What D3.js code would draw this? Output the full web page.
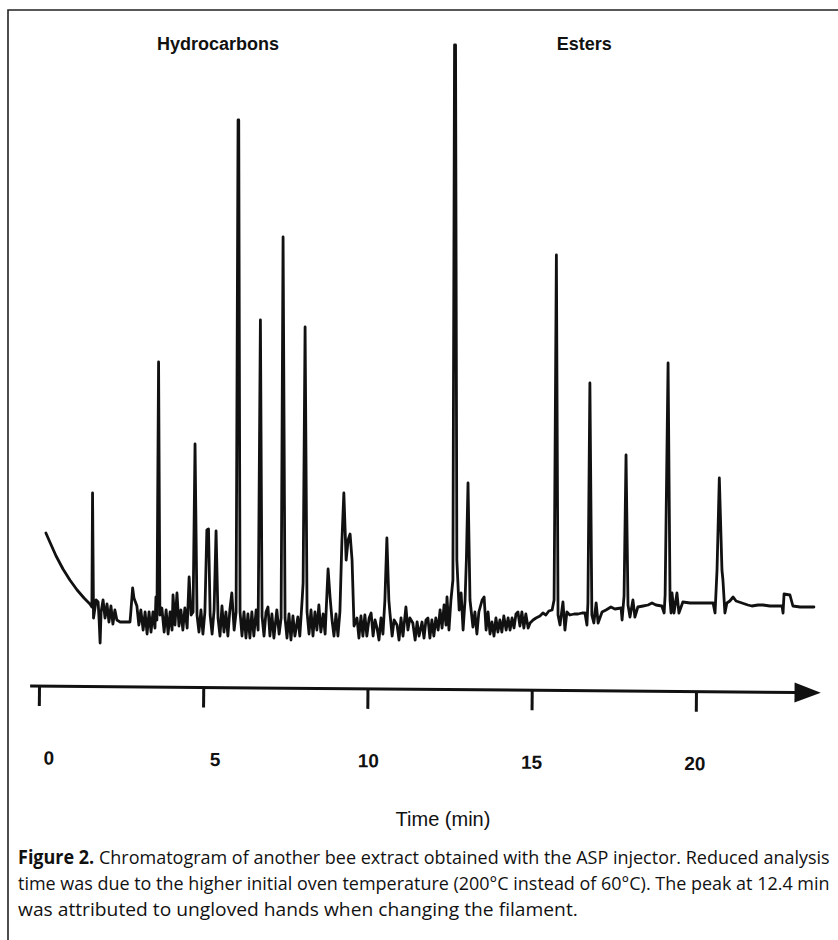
<!DOCTYPE html>
<html lang="en">
<head>
<meta charset="UTF-8">
<title>Figure 2 - Chromatogram</title>
<style>
  body { margin: 0; background: #fff; }
  svg { display: block; }
  .trace { fill: none; stroke: #111; stroke-width: 2.8; stroke-linejoin: round; stroke-linecap: round; }
  .axis text { font-family: 'Liberation Sans', Arial, sans-serif; font-size: 19px; font-weight: bold; fill: #111; }
  .axis line { stroke: #111; stroke-width: 3; }
  .region { font-family: 'Liberation Sans', Arial, sans-serif; font-size: 18px; font-weight: bold; fill: #111; text-anchor: middle; }
  .xlabel { font-family: 'Liberation Sans', Arial, sans-serif; font-size: 20px; fill: #111; text-anchor: middle; }
  .caption { font-family: 'Open Sans', 'Noto Sans', sans-serif; font-size: 19px; fill: #111; }
</style>
</head>
<body>
<div id="chart"></div>
<script src="https://d3js.org/d3.v7.min.js"></script>
<script>
// x axis ticks (minutes)
const tickValues = [0, 5, 10, 15, 20];
const tickLabels = ['0', '5', '10', '15', '20'];
const regionLabels = ['Hydrocarbons', 'Esters'];
const axisTitle = 'Time (min)';

// detector trace, [time (min), signal (arbitrary units)]
const traceStart = [
  [0.21, 21.4], [0.33, 19.6], [0.52, 16.8], [0.73, 14.2], [0.94, 12.0], [1.16, 10.0],
  [1.37, 8.4], [1.55, 7.2], [1.61, 6.6], [1.63, 29.4], [1.66, 4.4], [1.74, 8.0],
  [1.80, 7.6], [1.83, 4.0], [1.86, -0.6], [1.89, 5.6], [1.95, 8.0], [2.01, 4.4],
  [2.07, 7.2], [2.13, 3.6], [2.19, 6.8], [2.25, 3.2], [2.31, 6.0], [2.37, 4.0],
  [2.47, 3.6], [2.77, 3.6]
];

const traceHydrocarbons = [
  [2.80, 6.0], [2.85, 10.4], [2.89, 8.4], [2.98, 6.8], [3.04, 3.0], [3.10, 6.0],
  [3.17, 2.0], [3.23, 5.6], [3.29, 1.2], [3.35, 5.6], [3.41, 1.6], [3.47, 5.6],
  [3.53, 2.4], [3.56, 8.6], [3.59, 4.0], [3.64, 55.6], [3.68, 5.0], [3.74, 6.4],
  [3.81, 1.6], [3.87, 6.0], [3.93, 1.2], [3.99, 5.6], [4.05, 2.0], [4.08, 9.0],
  [4.14, 3.0], [4.20, 9.4], [4.26, 2.8], [4.32, 6.0], [4.38, 2.0], [4.44, 6.4],
  [4.51, 2.4], [4.57, 12.6], [4.63, 5.0], [4.69, 5.6], [4.75, 39.2], [4.81, 5.0],
  [4.87, 1.6], [4.93, 6.0], [4.99, 1.2], [5.05, 5.6], [5.11, 22.0], [5.16, 22.2],
  [5.21, 5.0], [5.27, 1.2], [5.33, 6.0], [5.39, 21.8], [5.45, 4.4], [5.51, 0.8],
  [5.57, 6.8], [5.63, 1.6], [5.69, 5.6], [5.75, 0.8], [5.81, 6.0], [5.87, 9.4],
  [5.94, 2.0], [6.00, 5.6], [6.06, 104.0], [6.08, 104.0], [6.12, 5.6], [6.18, 0.8],
  [6.24, 5.6], [6.30, 0.4], [6.36, 5.2], [6.42, 0.4], [6.48, 5.6], [6.54, 0.8],
  [6.61, 6.0], [6.67, 2.0], [6.74, 64.0], [6.79, 4.8], [6.85, 0.8], [6.91, 5.6],
  [6.97, 6.6], [7.03, 0.8], [7.09, 5.2], [7.15, 0.4], [7.24, 6.0], [7.31, 1.2],
  [7.37, 4.4], [7.43, 80.6], [7.49, 4.4], [7.55, 0.4], [7.61, 5.2], [7.67, 0.0],
  [7.73, 4.8], [7.79, 0.8], [7.88, 4.6], [7.94, 0.8], [8.01, 8.0], [8.04, 11.4],
  [8.10, 62.6], [8.16, 5.6], [8.22, 1.2], [8.28, 6.0], [8.34, 0.8], [8.40, 5.6],
  [8.46, 2.0], [8.52, 7.0], [8.58, 1.6], [8.65, 5.2], [8.71, 1.2], [8.77, 10.0],
  [8.80, 14.2], [8.86, 8.6], [8.92, 4.0], [8.98, 0.8], [9.04, 5.2], [9.10, 0.8],
  [9.16, 5.6], [9.22, 19.6], [9.28, 29.4], [9.35, 16.0], [9.41, 20.0], [9.47, 21.2],
  [9.53, 16.0], [9.59, 2.8], [9.68, 4.4], [9.74, 0.4], [9.80, 4.8], [9.86, 0.8],
  [9.92, 5.0], [9.98, 0.8], [10.05, 4.4], [10.11, 5.4], [10.17, 0.8], [10.23, 4.0],
  [10.29, 2.4], [10.35, 0.0], [10.41, 4.4], [10.47, 1.2], [10.53, 8.0], [10.59, 20.4],
  [10.65, 8.0], [10.68, 5.6], [10.75, 0.8], [10.81, 4.0], [10.90, 3.0], [10.96, 0.0],
  [11.02, 4.4], [11.08, 0.8], [11.17, 6.6], [11.23, 2.0], [11.29, 4.4], [11.38, 3.4],
  [11.45, 0.0], [11.51, 3.6], [11.57, 0.8], [11.66, 3.6], [11.72, 0.4], [11.78, 4.0],
  [11.84, 4.4], [11.90, 0.4], [11.96, 4.0], [12.02, 0.8], [12.08, 4.4], [12.15, 2.0],
  [12.21, 6.0], [12.27, 2.4], [12.33, 7.0], [12.39, 3.0], [12.42, 8.6], [12.48, 2.0],
  [12.54, 8.0], [12.60, 12.0], [12.65, 119.0], [12.68, 119.0], [12.72, 16.0], [12.79, 6.0],
  [12.85, 9.4], [12.91, 2.0], [12.97, 8.0], [13.01, 16.0], [13.06, 31.4], [13.12, 8.0],
  [13.21, 2.6], [13.27, 5.6], [13.33, 1.2], [13.39, 5.6], [13.49, 8.0], [13.55, 8.6],
  [13.61, 2.0], [13.67, 5.6], [13.73, 1.2], [13.79, 3.6], [13.85, 0.8], [13.91, 4.4],
  [13.97, 1.6], [14.03, 4.0], [14.09, 1.6], [14.15, 4.8], [14.22, 2.0], [14.28, 4.4],
  [14.34, 2.0], [14.40, 4.4], [14.46, 2.4], [14.52, 5.2], [14.58, 5.6], [14.64, 2.8],
  [14.70, 5.6], [14.76, 2.4], [14.82, 5.2], [14.89, 2.4], [14.95, 3.4]
];

const traceEsters = [
  [15.04, 4.0], [15.13, 4.4], [15.25, 4.8], [15.34, 5.4], [15.43, 5.0], [15.52, 5.8],
  [15.62, 6.0], [15.68, 8.0], [15.75, 77.0], [15.80, 5.0], [15.86, 3.0], [15.95, 7.6],
  [16.01, 2.0], [16.07, 5.6], [16.16, 5.0], [16.29, 5.2], [16.41, 5.2], [16.53, 5.4],
  [16.62, 5.4], [16.68, 3.0], [16.71, 7.4], [16.77, 51.4], [16.83, 5.0], [16.89, 3.4],
  [16.96, 7.4], [17.02, 3.4], [17.14, 5.6], [17.26, 6.0], [17.41, 6.6], [17.53, 6.2],
  [17.72, 6.4], [17.75, 4.0], [17.81, 8.8], [17.87, 37.0], [17.93, 7.0], [17.99, 4.6],
  [18.08, 8.0], [18.14, 4.6], [18.23, 6.6], [18.39, 6.8], [18.54, 7.0], [18.66, 7.4],
  [18.78, 7.0], [18.96, 6.8], [19.03, 5.4], [19.06, 9.0], [19.15, 55.4], [19.21, 8.0],
  [19.24, 5.4], [19.27, 9.4], [19.33, 5.4], [19.42, 9.4], [19.48, 5.4], [19.60, 7.6],
  [19.82, 7.4], [20.12, 7.4], [20.36, 7.4], [20.52, 7.4], [20.58, 5.4], [20.64, 14.0],
  [20.71, 32.4], [20.79, 14.0], [20.82, 12.0], [20.88, 5.4], [20.94, 7.4], [21.03, 7.8],
  [21.13, 8.6], [21.22, 7.8], [21.40, 7.4], [21.58, 7.0], [21.70, 6.8], [21.89, 7.0],
  [22.04, 7.0], [22.25, 6.8], [22.43, 6.8], [22.62, 6.8], [22.65, 5.4], [22.68, 9.2],
  [22.86, 9.0], [22.95, 6.8], [23.17, 6.6], [23.38, 6.6], [23.59, 6.6]
];

const captionBold = 'Figure 2.';
const captionLines = [
  ' Chromatogram of another bee extract obtained with the ASP injector. Reduced analysis',
  'time was due to the higher initial oven temperature (200°C instead of 60°C). The peak at 12.4 min',
  'was attributed to ungloved hands when changing the filament.'
];

const W = 838, H = 940;
const trace = traceStart.concat(traceHydrocarbons, traceEsters);

const svg = d3.select('#chart').append('svg')
  .attr('width', W)
  .attr('height', H);

// frame (left and top rules of the page)
svg.append('path')
  .attr('d', `M8,${H} L8,10 L${W},10`)
  .attr('fill', 'none')
  .attr('stroke', '#222')
  .attr('stroke-width', 1.6);

const x = d3.scaleLinear().domain([0, 20]).range([39, 696]);
const y = d3.scaleLinear().domain([0, 120]).range([640, 40]);

// region labels
svg.selectAll('.region')
  .data(regionLabels)
  .enter()
  .append('text')
  .attr('class', 'region')
  .attr('x', (d, i) => x([5.45, 16.6][i]))
  .attr('y', 50)
  .text(d => d);

// chromatogram trace
const line = d3.line()
  .x(d => x(d[0]))
  .y(d => y(d[1]));

svg.append('path')
  .datum(trace)
  .attr('class', 'trace')
  .attr('d', line);

// time axis (slightly tilted, as in the printed figure)
const axisY = 686;
const axisG = svg.append('g')
  .attr('class', 'axis')
  .attr('transform', `translate(0,${axisY}) rotate(0.5 ${x(0)} 0)`);

axisG.call(d3.axisBottom(x)
  .tickValues(tickValues)
  .tickSize(20)
  .tickPadding(45)
  .tickFormat((d, i) => tickLabels[i]));

axisG.select('.domain').remove();

// hand-set label offsets of the original
const nudge = [10, 12, 1, 0, -1];
axisG.selectAll('.tick text').attr('dx', (d, i) => nudge[i]);

axisG.append('line')
  .attr('x1', x(-0.27))
  .attr('x2', x(23.05))
  .attr('y1', 0)
  .attr('y2', 0);

axisG.append('path')
  .attr('d', `M${x(23.0)},-10 L${x(23.8)},0 L${x(23.0)},10 Z`)
  .attr('fill', '#111');

svg.append('text')
  .attr('class', 'xlabel')
  .attr('x', 443)
  .attr('y', 826)
  .text(axisTitle);

// caption: set in a narrow face, so each line is squeezed horizontally to its printed width
const cap = svg.append('g').attr('class', 'caption');
const capY = [864, 890, 916];
const capWidth = [812, 812, 560];

const rows = cap.selectAll('text')
  .data(captionLines)
  .enter()
  .append('text')
  .attr('x', 0)
  .attr('y', 0);

rows.each(function (d, i) {
  const t = d3.select(this);
  if (i === 0) {
    t.append('tspan').attr('font-weight', 'bold').text(captionBold);
    t.append('tspan').text(d);
  } else {
    t.text(d);
  }
  const natural = this.getComputedTextLength();
  t.attr('transform', `translate(18,${capY[i]}) scale(${capWidth[i] / natural},1)`);
});
</script>
</body>
</html>
